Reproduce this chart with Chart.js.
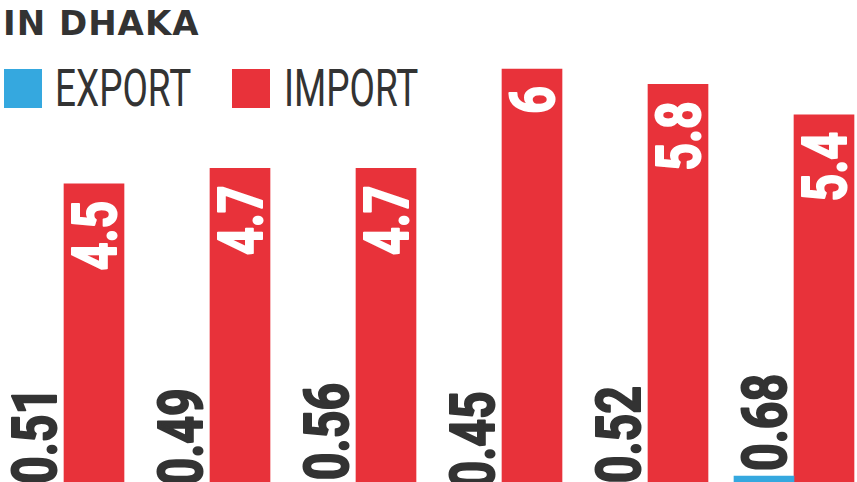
<!DOCTYPE html>
<html>
<head>
<meta charset="utf-8">
<title>In Dhaka</title>
<script src="https://cdn.jsdelivr.net/npm/chart.js@4/dist/chart.umd.min.js"></script>
<style>
    html, body { margin: 0; padding: 0; background: #fff; }
    body { width: 857px; height: 482px; position: relative; overflow: hidden; }
    #titulo {
        position: absolute; left: 3px; top: 6px;
        font: bold 34px "DejaVu Sans", sans-serif; line-height: 34px;
        letter-spacing: 1px; color: #333;
    }
    #legenda { position: absolute; left: 0; top: 0; }
    .caixa { position: absolute; top: 69px; width: 38px; height: 39px; }
    .rotulo {
        position: absolute; top: 63px; white-space: nowrap;
        font: 400 52px Roboto, sans-serif; line-height: 52px; color: #333;
        transform: scaleX(0.71); transform-origin: left top;
    }
    #area { position: absolute; left: -9px; top: 0; width: 876px; height: 482px; }
</style>
</head>
<body>
<div id="titulo">IN DHAKA</div>
<div id="legenda"></div>
<div id="area"><canvas id="chart-area"></canvas></div>
<script>
const categorias = ['1', '2', '3', '4', '5', '6'];
const series = ['EXPORT', 'IMPORT'];
const exportacao = [0.51, 0.49, 0.56, 0.45, 0.52, 0.68];
const importacao = [4.5, 4.7, 4.7, 6, 5.8, 5.4];
const cores = ['#35a8df', '#e8323a'];

// escreve os valores girados sobre as barras
const rotulosBarras = {
    id: 'rotulosBarras',
    afterDatasetsDraw(chart) {
        const ctx = chart.ctx;
        chart.data.datasets.forEach((ds, d) => {
            const meta = chart.getDatasetMeta(d);
            meta.data.forEach((barra, i) => {
                const texto = String(ds.data[i]);
                const cor = d === 0 ? '#333' : '#fff';
                ctx.save();
                ctx.font = 'bold 62px Roboto';
                ctx.textBaseline = 'alphabetic';
                if (d === 0) {
                    ctx.translate(barra.x + 22, barra.y - 5);
                    ctx.textAlign = 'left';
                } else {
                    ctx.translate(barra.x + 22, barra.y + 17);
                    ctx.textAlign = 'right';
                }
                ctx.rotate(-Math.PI / 2);
                ctx.scale(0.78, 1);
                ctx.fillStyle = cor;
                ctx.strokeStyle = cor;
                ctx.lineWidth = 2;
                ctx.lineJoin = 'round';
                ctx.fillText(texto, 0, 0);
                ctx.strokeText(texto, 0, 0);
                ctx.restore();
            });
        });
    }
};

gerarLegenda();
gerarGrafico();

// legenda em html, montada a partir das series
function gerarLegenda() {
    const posicoes = [[4, 55], [232, 284]];
    let html = '';
    series.forEach((nome, i) => {
        html += '<div class="caixa" style="left:' + posicoes[i][0] + 'px;background:' + cores[i] + '"></div>';
        html += '<span class="rotulo" style="left:' + posicoes[i][1] + 'px">' + nome + '</span>';
    });
    document.getElementById('legenda').innerHTML = html;
}

function gerarGrafico() {
    let config = {
        type: 'bar',
        data: {
            labels: categorias,
            datasets: [{
                label: series[0],
                data: exportacao,
                backgroundColor: cores[0]
            }, {
                label: series[1],
                data: importacao,
                backgroundColor: cores[1]
            }]
        },
        options: {
            responsive: true,
            maintainAspectRatio: false,
            animation: false,
            barThickness: 60,
            layout: { padding: 0 },
            plugins: {
                legend: { display: false },
                tooltip: { enabled: false }
            },
            scales: {
                x: { display: false },
                y: { display: false, min: 0.601, max: 6.902 }
            }
        },
        plugins: [rotulosBarras]
    };

    let ctx = document.getElementById('chart-area').getContext('2d');
    window.myBar = new Chart(ctx, config);
}
</script>
</body>
</html>
